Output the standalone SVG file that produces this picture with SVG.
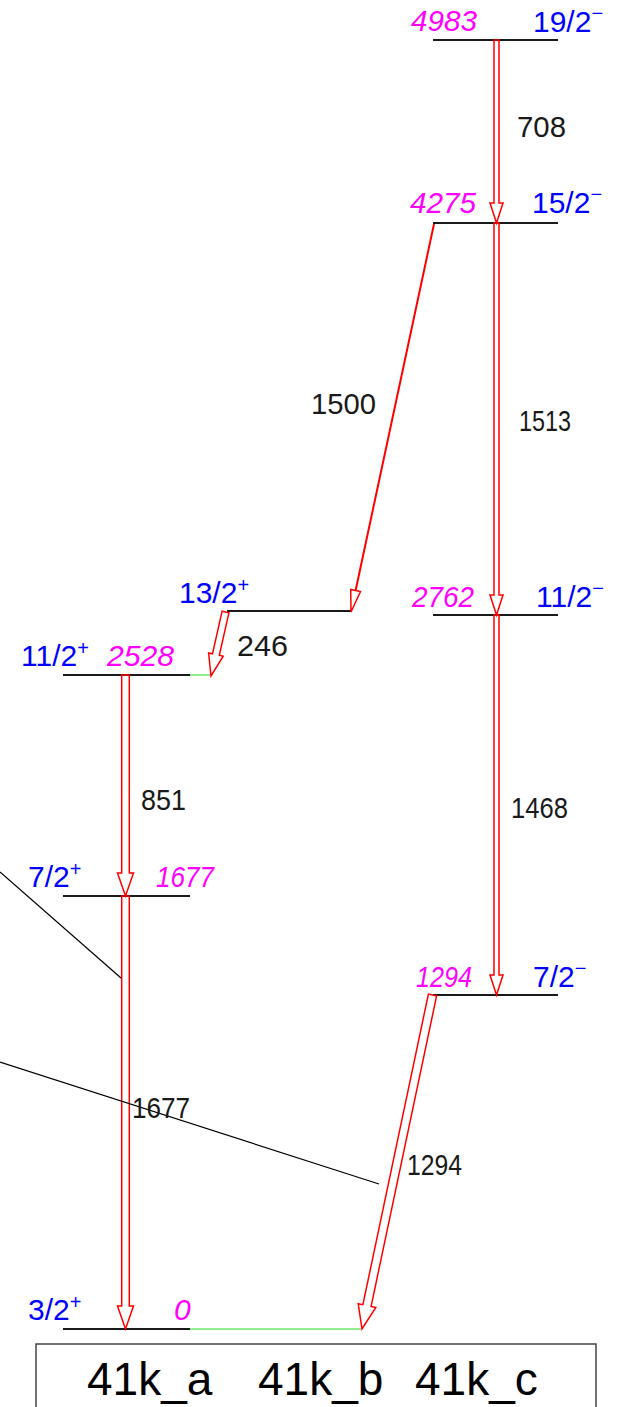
<svg xmlns="http://www.w3.org/2000/svg" width="626" height="1407" viewBox="0 0 626 1407">
<style>
.lvl{stroke:#1a1a1a;stroke-width:2;fill:none}
.gr{stroke:#90ee90;stroke-width:2;fill:none}
.arr{stroke:#ff0000;stroke-width:1.5;fill:none;stroke-linejoin:miter}
.thin{stroke:#000;stroke-width:1.2;fill:none}
.en{font-family:"Liberation Sans",Arial,sans-serif;font-size:30px;fill:#ff00ff;font-style:italic}
.sp{font-family:"Liberation Sans",Arial,sans-serif;font-size:30px;fill:#0000ff}
.sup{font-size:20px}
.tl{font-family:"Liberation Sans",Arial,sans-serif;font-size:30px;fill:#1a1a1a}
.box{stroke:#444;stroke-width:1.5;fill:#fff}
.bl{font-family:"Liberation Sans",Arial,sans-serif;font-size:46px;fill:#000}
</style>
<g id="level-4983">
<line class="lvl" x1="433" y1="40" x2="558" y2="40"/>
<text class="en" x="411" y="31" textLength="66" lengthAdjust="spacingAndGlyphs">4983</text>
<text class="sp" x="533" y="32">19/2<tspan class="sup" dy="-12">−</tspan></text>
</g>
<g id="level-4275">
<line class="lvl" x1="433" y1="223" x2="558" y2="223"/>
<text class="en" x="410" y="213" textLength="66" lengthAdjust="spacingAndGlyphs">4275</text>
<text class="sp" x="532" y="213">15/2<tspan class="sup" dy="-12">−</tspan></text>
</g>
<g id="level-2762">
<line class="lvl" x1="433" y1="615" x2="558" y2="615"/>
<text class="en" x="412" y="607" textLength="62" lengthAdjust="spacingAndGlyphs">2762</text>
<text class="sp" x="536" y="607">11/2<tspan class="sup" dy="-12">−</tspan></text>
</g>
<g id="level-1294">
<line class="lvl" x1="433" y1="995" x2="558" y2="995"/>
<text class="en" x="416" y="987" textLength="56" lengthAdjust="spacingAndGlyphs">1294</text>
<text class="sp" x="533" y="987">7/2<tspan class="sup" dy="-12">−</tspan></text>
</g>
<g id="level-13-2">
<line class="lvl" x1="227" y1="611" x2="351" y2="611"/>
<text class="sp" x="179" y="603">13/2<tspan class="sup" dy="-11">+</tspan></text>
</g>
<g id="level-2528">
<line class="lvl" x1="63" y1="675" x2="190" y2="675"/>
<line class="gr" x1="190" y1="675" x2="211" y2="675"/>
<text class="en" x="107" y="666" textLength="67" lengthAdjust="spacingAndGlyphs">2528</text>
<text class="sp" x="21" y="666">11/2<tspan class="sup" dy="-11">+</tspan></text>
</g>
<g id="level-1677">
<line class="lvl" x1="63" y1="896" x2="190" y2="896"/>
<text class="en" x="156" y="887" textLength="58" lengthAdjust="spacingAndGlyphs">1677</text>
<text class="sp" x="28" y="887">7/2<tspan class="sup" dy="-11">+</tspan></text>
</g>
<g id="level-0">
<line class="lvl" x1="63" y1="1329" x2="190" y2="1329"/>
<line class="gr" x1="190" y1="1329" x2="361" y2="1329"/>
<text class="en" x="174" y="1320">0</text>
<text class="sp" x="28" y="1320">3/2<tspan class="sup" dy="-11">+</tspan></text>
</g>
<g id="connectors">
<path class="arr" d="M494,40 L494,203 L490,203 L496.5,223 L503,203 L499,203 L499,40 Z"/>
<path class="arr" d="M494,223 L494,595 L490,595 L496.5,615 L503,595 L499,595 L499,223 Z"/>
<path class="arr" d="M494,615 L494,975 L490,975 L496.5,995 L503,975 L499,975 L499,615 Z"/>
<path class="arr" d="M121.7,675 L121.7,873 L117.5,873 L125.5,896 L133.5,873 L129.3,873 L129.3,675 Z"/>
<path class="arr" d="M121.7,896 L121.7,1306 L117.5,1306 L125.5,1329 L133.5,1306 L129.3,1306 L129.3,896 Z"/>
<path class="arr" d="M222.1,611.2 L212.5,653.8 L208.6,652.9 L211,676 L223.2,656.2 L219.3,655.3 L228.9,612.8 Z"/>
<path class="arr" d="M428.4,994.1 L362.9,1304.7 L358.2,1303.7 L362,1329 L375.8,1307.4 L371.1,1306.4 L436.6,995.9 Z"/>
<line x1="434" y1="224" x2="355.6" y2="590.5" stroke="#ff0000" stroke-width="2"/>
<path class="arr" d="M355.6,590.5 L350.7,589.4 L351,612 L360.5,591.5 Z"/>
<line class="thin" x1="0" y1="872" x2="121" y2="978"/>
<line class="thin" x1="0" y1="1062" x2="379" y2="1184"/>
<text class="tl" x="517" y="137" textLength="49" lengthAdjust="spacingAndGlyphs">708</text>
<text class="tl" x="311" y="414" textLength="65" lengthAdjust="spacingAndGlyphs">1500</text>
<text class="tl" x="519" y="431" textLength="52" lengthAdjust="spacingAndGlyphs">1513</text>
<text class="tl" x="237" y="656" textLength="51" lengthAdjust="spacingAndGlyphs">246</text>
<text class="tl" x="141" y="810" textLength="45" lengthAdjust="spacingAndGlyphs">851</text>
<text class="tl" x="511" y="818" textLength="57" lengthAdjust="spacingAndGlyphs">1468</text>
<text class="tl" x="132" y="1118" textLength="58" lengthAdjust="spacingAndGlyphs">1677</text>
<text class="tl" x="407" y="1175" textLength="55" lengthAdjust="spacingAndGlyphs">1294</text>
</g>
<g id="label-box">
<rect class="box" x="36" y="1344" width="560" height="80"/>
<text class="bl" y="1395"><tspan x="87">41k_a</tspan><tspan x="258">41k_b</tspan><tspan x="415">41k_c</tspan></text>
</g>
</svg>
